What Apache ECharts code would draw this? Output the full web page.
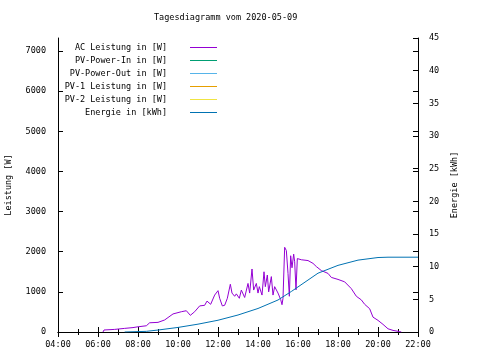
<!DOCTYPE html>
<html>
<head>
<meta charset="utf-8">
<script src="https://cdn.jsdelivr.net/npm/echarts@6/dist/echarts.min.js"></script>
<style>html,body{margin:0;padding:0;background:#fff}#c{width:480px;height:360px}</style>
</head>
<body>
<div id="c"></div>
<script>
// ---- data ----
const titleText = 'Tagesdiagramm vom 2020-05-09';
const seriesNames = ['AC Leistung in [W]', 'PV-Power-In in [W]', 'PV-Power-Out in [W]', 'PV-1 Leistung in [W]', 'PV-2 Leistung in [W]', 'Energie in [kWh]'];
const seriesColors = ['#9400d3', '#009e73', '#56b4e9', '#e69f00', '#f0e442', '#0072b2'];
const xTickHours = [4, 6, 8, 10, 12, 14, 16, 18, 20, 22];

const acTimes = ['06:15','06:18','06:50','07:20','07:45','08:00','08:25','08:35','09:00','09:20','09:45','10:10','10:25','10:37','10:50','11:05','11:20','11:27','11:38','11:50','12:00','12:05','12:13','12:20','12:28','12:37','12:42','12:50','12:55','13:04','13:10','13:20','13:30','13:35','13:42','13:47','13:55','14:00','14:04','14:12','14:18','14:22','14:28','14:32','14:40','14:45','14:50','15:00','15:08','15:12','15:15','15:20','15:25','15:30','15:34','15:38','15:42','15:47','15:50','15:54','15:58','16:10','16:30','16:45','16:55','17:10','17:30','17:40','18:00','18:20','18:40','18:55','19:10','19:20','19:35','19:45','20:00','20:15','20:30','20:45','21:05','21:10'];
const acWatts = [0,50,65,90,110,130,155,230,240,300,450,505,530,415,505,650,665,770,690,920,1030,840,650,665,840,1190,970,890,950,840,1045,860,1210,970,1570,1045,1210,970,1130,920,1500,1130,1420,1000,1380,920,1130,970,810,680,840,2110,2030,1460,890,1900,1600,1940,1750,1050,1830,1800,1780,1710,1630,1530,1460,1360,1310,1250,1080,890,800,690,580,370,290,190,80,40,10,0];

const energyTimes = ['07:20','08:25','09:00','10:00','11:00','12:00','13:00','14:00','15:00','15:40','16:00','17:00','18:00','19:00','20:00','20:30','22:00'];
const energyKWh = [0,0.1,0.3,0.7,1.2,1.8,2.6,3.6,4.9,6.2,6.9,9.0,10.2,11.0,11.4,11.45,11.45];

// ---- helpers ----
const toH = s => { const p = s.split(':'); return +p[0] + (+p[1]) / 60; };
const pad = v => (v < 10 ? '0' : '') + v;
const FONT = 'DejaVu Sans Mono';
const FS = 8.5;

const acData = acTimes.map((t, i) => [toH(t), acWatts[i]]);
const enData = energyTimes.map((t, i) => [toH(t), energyKWh[i]]);

const chart = echarts.init(document.getElementById('c'), null, {renderer: 'canvas'});

const legends = seriesNames.map((n, i) => ({
  data: [n],
  orient: 'vertical',
  right: 263,
  top: 43 + i * 13,
  padding: 0,
  align: 'right',
  itemWidth: 27,
  itemHeight: 1,
  icon: 'rect',
  selectedMode: false,
  itemStyle: {color: seriesColors[i], borderWidth: 0},
  textStyle: {fontFamily: FONT, fontSize: FS, color: '#000', padding: [0, 18, 0, 0]}
}));

const seriesData = [acData, [], [], [], [], enData];

const tickStyle = {color: '#000', width: 1};

const option = {
  animation: false,
  backgroundColor: '#fff',
  title: {
    text: titleText, left: 154, top: 13, padding: 0,
    textStyle: {fontFamily: FONT, fontSize: FS, fontWeight: 'normal', color: '#000'}
  },
  legend: legends,
  grid: {left: 58, right: 62, top: 38, bottom: 28, containLabel: false, outerBoundsMode: 'none', show: false},
  xAxis: [
    {
      type: 'value', min: 4, max: 22, interval: 2, position: 'bottom',
      axisLine: {show: true, lineStyle: tickStyle},
      axisTick: {show: true, inside: true, length: 5, lineStyle: tickStyle},
      minorTick: {show: true, splitNumber: 2, length: 3, lineStyle: tickStyle},
      splitLine: {show: false},
      axisLabel: {
        margin: 8, fontFamily: FONT, fontSize: FS, color: '#000',
        formatter: v => xTickHours.indexOf(v) >= 0 ? pad(v) + ':00' : ''
      }
    },
    {
      type: 'value', min: 4, max: 22, interval: 2, position: 'top',
      axisLine: {show: true, lineStyle: tickStyle},
      axisTick: {show: true, inside: true, length: 5, lineStyle: tickStyle},
      minorTick: {show: true, splitNumber: 2, length: 3, lineStyle: tickStyle},
      splitLine: {show: false},
      axisLabel: {show: false}
    }
  ],
  yAxis: [
    {
      type: 'value', min: 0, max: 7325, interval: 1000, position: 'left',
      name: 'Leistung [W]', nameLocation: 'middle', nameGap: 45, nameRotate: 90,
      nameTextStyle: {fontFamily: FONT, fontSize: FS, color: '#000'},
      axisLine: {show: true, lineStyle: tickStyle},
      axisTick: {show: true, inside: true, length: 5, lineStyle: tickStyle},
      splitLine: {show: false},
      axisLabel: {margin: 12, fontFamily: FONT, fontSize: FS, color: '#000', showMaxLabel: false,
                  formatter: v => String(v)}
    },
    {
      type: 'value', min: 0, max: 45, interval: 5, position: 'right',
      name: 'Energie [kWh]', nameLocation: 'middle', nameGap: 31, nameRotate: 90,
      nameTextStyle: {fontFamily: FONT, fontSize: FS, color: '#000'},
      axisLine: {show: true, lineStyle: tickStyle},
      axisTick: {show: true, inside: true, length: 5, lineStyle: tickStyle},
      splitLine: {show: false},
      axisLabel: {margin: 11, fontFamily: FONT, fontSize: FS, color: '#000', formatter: v => String(v)}
    },
    {
      type: 'value', min: 0, max: 7325, interval: 1000, position: 'right',
      axisLine: {show: false},
      axisTick: {show: true, inside: true, length: 5, lineStyle: tickStyle},
      splitLine: {show: false},
      axisLabel: {show: false}
    }
  ],
  series: seriesNames.map((n, i) => ({
    name: n,
    type: 'line',
    xAxisIndex: 0,
    yAxisIndex: i === 5 ? 1 : 0,
    data: seriesData[i],
    showSymbol: false,
    symbol: 'none',
    color: seriesColors[i],
    itemStyle: {color: seriesColors[i]},
    lineStyle: {width: 1, color: seriesColors[i]}
  }))
};
chart.setOption(option);
</script>
</body>
</html>
